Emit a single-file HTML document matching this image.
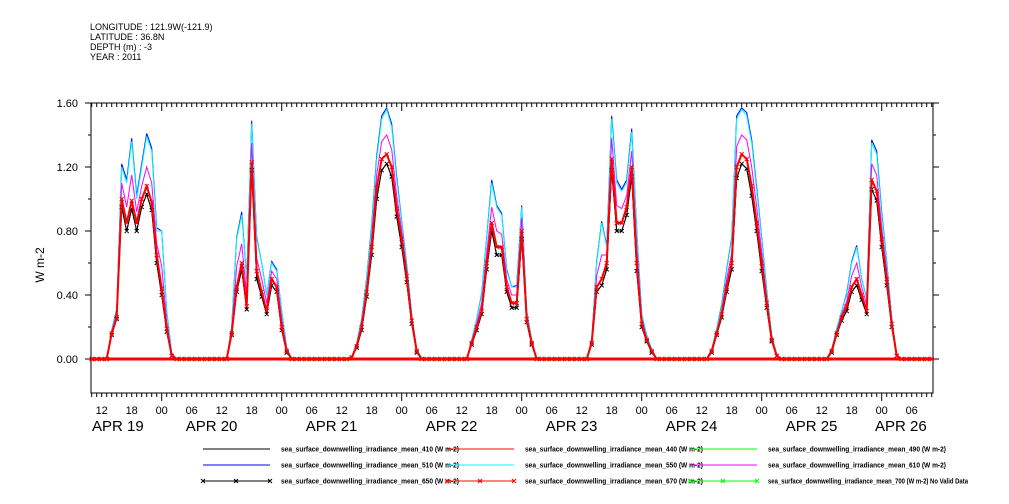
<!DOCTYPE html>
<html><head><meta charset="utf-8">
<style>
html,body{margin:0;padding:0;background:#fff;}
svg{display:block;font-family:"Liberation Sans",sans-serif;}
</style></head>
<body>
<svg id="chart" width="1009" height="504" viewBox="0 0 1009 504" xmlns="http://www.w3.org/2000/svg">
<g font-size="9" fill="#000">
<text x="90" y="30">LONGITUDE : 121.9W(-121.9)</text>
<text x="90" y="40">LATITUDE : 36.8N</text>
<text x="90" y="50">DEPTH (m) : -3</text>
<text x="90" y="60">YEAR : 2011</text>
</g>
<text x="44" y="265" font-size="12" text-anchor="middle" transform="rotate(-90 44 265)">W m-2</text>
<g id="axes"></g>
<g id="series"></g>
<g id="legend"></g>
</svg>
<script>
// hourly values for each day, 13:00 .. 03:00 UTC (15 samples)
const dayLabels = ["APR 19","APR 20","APR 21","APR 22","APR 23","APR 24","APR 25","APR 26"];
const yTicks = [0, 0.4, 0.8, 1.2, 1.6];
const yTickLabels = ["0.00","0.40","0.80","1.20","1.60"];
const hourLabels = ["00","06","12","18"];
const red670 = [
 [0,0.16,0.26,1.0,0.85,0.99,0.85,1.0,1.08,0.98,0.65,0.44,0.19,0.02,0],
 [0,0.16,0.45,0.6,0.33,1.23,0.55,0.42,0.3,0.5,0.45,0.2,0.05,0,0],
 [0,0.01,0.08,0.2,0.42,0.7,1.07,1.25,1.28,1.2,0.94,0.75,0.52,0.24,0.05],
 [0,0.1,0.2,0.3,0.6,0.85,0.7,0.7,0.45,0.35,0.35,0.8,0.25,0.1,0],
 [0,0.1,0.45,0.5,0.6,1.25,0.85,0.85,0.95,1.2,0.6,0.22,0.12,0.05,0],
 [0,0.05,0.16,0.28,0.45,0.6,1.2,1.28,1.25,1.08,0.85,0.6,0.35,0.12,0.02],
 [0,0.05,0.16,0.26,0.33,0.45,0.5,0.4,0.3,1.12,1.05,0.75,0.5,0.22,0.02]
];
const cyan550 = [
 [0,0.18,0.3,1.2,1.1,1.36,1.0,1.2,1.39,1.3,0.8,0.8,0.3,0.04,0],
 [0,0.2,0.75,0.9,0.5,1.47,0.75,0.6,0.4,0.6,0.55,0.3,0.07,0,0],
 [0,0.01,0.1,0.24,0.5,0.82,1.25,1.5,1.56,1.45,1.12,0.85,0.58,0.28,0.06],
 [0,0.12,0.25,0.4,0.75,1.1,0.95,0.9,0.55,0.45,0.45,0.95,0.3,0.12,0],
 [0,0.12,0.6,0.85,0.7,1.5,1.1,1.05,1.1,1.42,0.8,0.28,0.15,0.06,0],
 [0,0.06,0.19,0.33,0.55,0.75,1.5,1.56,1.52,1.35,1.05,0.75,0.42,0.15,0.03],
 [0,0.06,0.19,0.3,0.4,0.6,0.7,0.5,0.38,1.35,1.28,0.9,0.6,0.26,0.03]
];
const blue510 = [
 [0,0.18,0.31,1.22,1.12,1.38,1.02,1.22,1.41,1.32,0.82,0.8,0.3,0.04,0],
 [0,0.2,0.76,0.92,0.5,1.49,0.76,0.6,0.4,0.61,0.56,0.3,0.07,0,0],
 [0,0.01,0.1,0.25,0.51,0.84,1.27,1.52,1.57,1.47,1.14,0.86,0.59,0.28,0.06],
 [0,0.12,0.25,0.41,0.76,1.12,0.96,0.91,0.56,0.45,0.46,0.96,0.3,0.12,0],
 [0,0.12,0.61,0.86,0.71,1.52,1.12,1.06,1.12,1.44,0.81,0.28,0.15,0.06,0],
 [0,0.06,0.19,0.34,0.56,0.76,1.52,1.57,1.54,1.37,1.07,0.76,0.43,0.15,0.03],
 [0,0.06,0.19,0.3,0.41,0.61,0.71,0.5,0.38,1.37,1.3,0.92,0.61,0.26,0.03]
];
const magenta610 = [
 [0,0.17,0.28,1.1,0.95,1.15,0.92,1.08,1.2,1.1,0.72,0.58,0.23,0.03,0],
 [0,0.18,0.58,0.72,0.4,1.35,0.63,0.5,0.35,0.55,0.5,0.25,0.06,0,0],
 [0,0.01,0.09,0.22,0.45,0.76,1.15,1.36,1.4,1.31,1.02,0.8,0.55,0.26,0.05],
 [0,0.11,0.22,0.35,0.66,0.95,0.8,0.78,0.5,0.4,0.4,0.88,0.27,0.11,0],
 [0,0.11,0.52,0.65,0.65,1.38,0.96,0.94,1.02,1.3,0.7,0.25,0.13,0.05,0],
 [0,0.05,0.17,0.3,0.5,0.66,1.33,1.4,1.37,1.2,0.95,0.67,0.38,0.13,0.02],
 [0,0.05,0.17,0.28,0.36,0.52,0.6,0.45,0.34,1.22,1.15,0.82,0.55,0.24,0.02]
];
const black650 = [
 [0,0.15,0.25,0.95,0.8,0.94,0.8,0.95,1.03,0.93,0.6,0.4,0.17,0.02,0],
 [0,0.15,0.42,0.56,0.31,1.18,0.5,0.39,0.28,0.46,0.42,0.18,0.04,0,0],
 [0,0.01,0.07,0.18,0.39,0.65,1.0,1.18,1.22,1.14,0.89,0.7,0.48,0.22,0.04],
 [0,0.09,0.18,0.28,0.56,0.8,0.65,0.65,0.42,0.32,0.32,0.75,0.23,0.09,0],
 [0,0.09,0.42,0.46,0.56,1.18,0.8,0.8,0.9,1.14,0.55,0.2,0.11,0.04,0],
 [0,0.04,0.15,0.26,0.42,0.56,1.13,1.22,1.19,1.02,0.8,0.55,0.32,0.11,0.02],
 [0,0.04,0.15,0.24,0.3,0.42,0.46,0.37,0.28,1.06,0.99,0.7,0.46,0.2,0.02]
];

const NS = "http://www.w3.org/2000/svg";
const L = 91, R = 933, T = 103, B = 393;
const TOTAL_H = 168;           // hours from Apr19 10:00
function xH(h){ return 91.7 + h * 5; }
function yV(v){ return 359 - v * 160; }
function mk(tag, attrs, parent){
  const e = document.createElementNS(NS, tag);
  for (const k in attrs) e.setAttribute(k, attrs[k]);
  parent.appendChild(e); return e;
}
function expand(days){
  const out = new Array(TOTAL_H + 1).fill(0);
  days.forEach((arr, d) => arr.forEach((v, k) => { const h = 3 + 24 * d + k; if (h <= TOTAL_H) out[h] = v; }));
  return out;
}
const axes = document.getElementById('axes');
const frame = mk('rect', {x:L, y:T, width:R-L, height:B-T, fill:'none', stroke:'#000', 'stroke-width':1}, axes);


for (let v = 0; v <= 1.6001; v += 0.2) {
  const y = yV(v);
  const major = Math.abs((v / 0.4) - Math.round(v / 0.4)) < 1e-6;
  const tl = mk('line', {x1:L - (major ? 6 : 3), x2:L, y1:y, y2:y, stroke:'#000'}, axes);
  
  
  const tr = mk('line', {x1:R, x2:R + (major ? 6 : 3), y1:y, y2:y, stroke:'#000'}, axes);
  
  
}
yTicks.forEach((v, i) => {
  const t = mk('text', {x:78, y:yV(v) + 4, 'font-size':11, 'text-anchor':'end'}, axes);
  t.textContent = yTickLabels[i];
  
  
});
for (let h = 0; h <= TOTAL_H; h++) {
  const x = xH(h);
  const hr = (10 + h) % 24;
  const len = hr === 0 ? 8 : 4;
  const tb = mk('line', {x1:x, x2:x, y1:B, y2:B + len, stroke:'#000'}, axes);
  
  
  const tt = mk('line', {x1:x, x2:x, y1:T, y2:T + len, stroke:'#000'}, axes);
  
  
  if (hr % 6 === 0) {
    const lt = mk('text', {x:x, y:414, 'font-size':11, 'text-anchor':'middle'}, axes);
    lt.textContent = hourLabels[hr / 6];
    
    
  }
}
dayLabels.forEach((lab, d) => {
  let x0 = xH(14 + 24 * (d - 1)) + 24;
  if (d === 0) x0 = 92;
  if (x0 + 62 > 937) x0 = 875;
  const t = mk('text', {x:x0, y:431, 'font-size':15}, axes);
  t.textContent = lab;
  
  
});
const sg = document.getElementById('series');
function drawSeries(days, color, name, width, markers){
  const vals = expand(days);
  const pts = vals.map((v, h) => xH(h).toFixed(1) + ',' + yV(v).toFixed(1)).join(' ');
  const pl = mk('polyline', {points:pts, fill:'none', stroke:color, 'stroke-width':width}, sg);
  
  
  if (markers) {
    let d = '';
    vals.forEach((v, h) => { const x = xH(h), y = yV(v); d += `M${x-2},${y-2}L${x+2},${y+2}M${x-2},${y+2}L${x+2},${y-2}`; });
    const m = mk('path', {d:d, stroke:color, 'stroke-width':1, fill:'none'}, sg);
    
    
  }
}
drawSeries(black650, '#000', 'series-410', 1, false);
drawSeries(blue510, '#0000ff', 'series-510', 1, false);
drawSeries(cyan550, '#00ffff', 'series-550', 1, false);
drawSeries(magenta610, '#ff00ff', 'series-610', 1, false);
drawSeries(black650, '#000', 'series-650', 1, true);
drawSeries(red670, '#ff0000', 'series-670', 2, true);
const zl = mk('line', {x1:L, x2:R, y1:359, y2:359, stroke:'#ff0000', 'stroke-width':3}, sg);


const lg = document.getElementById('legend');
const legendItems = [
 ['410','#000',false,0,0],['440','#ff0000',false,1,0],['490','#00ff00',false,2,0],
 ['510','#0000ff',false,0,1],['550','#00ffff',false,1,1],['610','#ff00ff',false,2,1],
 ['650','#000',true,0,2],['670','#ff0000',true,1,2],['700','#00ff00',true,2,2]
];
const colX = [203, 447, 690];
legendItems.forEach(it => {
  const [wl, col, mark, c, r] = it;
  const x = colX[c], y = 449 + r * 16;
  const ln = mk('line', {x1:x, x2:x + 67, y1:y, y2:y, stroke:col, 'stroke-width':1}, lg);
  
  
  if (mark) {
    let d = '';
    [0, 33, 67].forEach(o => { const xx = x + o; d += `M${xx-2},${y-2}L${xx+2},${y+2}M${xx-2},${y+2}L${xx+2},${y-2}`; });
    const mm = mk('path', {d:d, stroke:col, fill:'none'}, lg);
    
    
  }
  const label = 'sea_surface_downwelling_irradiance_mean_' + wl + ' (W m-2)' + (wl === '700' ? ' No Valid Data' : '');
  const t = mk('text', {x:x + 78, y:y + 2.5, 'font-size':7, 'font-weight':'bold', textLength: wl === '700' ? 200 : 178, lengthAdjust:'spacingAndGlyphs'}, lg);
  t.textContent = label;
  
  
});
</script>
</body></html>
